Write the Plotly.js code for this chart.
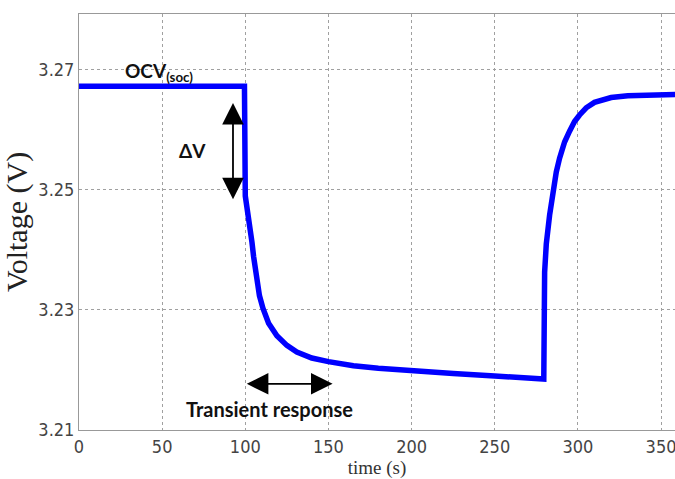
<!DOCTYPE html>
<html>
<head>
<meta charset="utf-8">
<script src="https://cdn.plot.ly/plotly-3.0.1.min.js"></script>
<style>html,body{margin:0;padding:0;background:#fff;}#chart{width:675px;height:479px;}</style>
</head>
<body>
<div id="chart"></div>
<script>
const timeS = [0, 99.5, 100, 101, 102, 103, 104, 105, 106.5, 108.5, 110.6, 114, 119, 125, 131, 140, 150, 165, 180, 200, 225, 250, 265, 279.5, 280, 281, 283, 285, 287, 289, 292, 295, 298, 301, 305, 310, 315, 320, 330, 340, 358.5];
const voltage = [3.2673, 3.2673, 3.2490, 3.2474, 3.2456, 3.2436, 3.2413, 3.2389, 3.2355, 3.2324, 3.2303, 3.2278, 3.2257, 3.2241, 3.2230, 3.2220, 3.2214, 3.2207, 3.2203, 3.2198, 3.2194, 3.2190, 3.2188, 3.2185, 3.2363, 3.2410, 3.2458, 3.2500, 3.2530, 3.2553, 3.2580, 3.2598, 3.2614, 3.2625, 3.2637, 3.2646, 3.2651, 3.2654, 3.2657, 3.2658, 3.2659];
const xTicks = [0, 50, 100, 150, 200, 250, 300, 350];
const yTicks = [3.21, 3.23, 3.25, 3.27];
const yTickText = ['3.21', '3.23', '3.25', '3.27'];

const trace = {
  x: timeS, y: voltage, type: 'scatter', mode: 'lines',
  line: {color: '#0000ff', width: 5.5}, hoverinfo: 'skip'
};

const annFont = {family: 'Lato, "Open Sans", sans-serif', size: 19, color: '#111'};
const tickFont = {family: '"Liberation Sans Narrow", "DejaVu Sans Condensed", sans-serif', size: 18, color: '#444'};
const layout = {
  width: 675, height: 479,
  margin: {l: 79, r: 0, t: 14, b: 49, pad: 0},
  paper_bgcolor: '#fff', plot_bgcolor: '#fff',
  showlegend: false,
  xaxis: {
    range: [0, 358.4], tickvals: xTicks, ticktext: xTicks.map(String),
    showgrid: true, gridcolor: '#a0a0a0', griddash: 'dot', gridwidth: 1,
    zeroline: false, showline: true, linecolor: '#999', linewidth: 1, mirror: true,
    ticks: '', tickfont: tickFont, ticklabeloverflow: 'allow',
    title: {text: 'time (s)', font: {family: '"Liberation Serif", "Times New Roman", serif', size: 19, color: '#333'}, standoff: 3}
  },
  yaxis: {
    range: [3.21, 3.27933], tickvals: yTicks, ticktext: yTickText,
    showgrid: true, gridcolor: '#a0a0a0', griddash: 'dot', gridwidth: 1,
    zeroline: false, showline: true, linecolor: '#999', linewidth: 1, mirror: true,
    ticks: '', tickfont: tickFont, ticklabeloverflow: 'allow',
    title: {text: 'Voltage (V)', font: {family: '"Liberation Serif", "Times New Roman", serif', size: 30, color: '#222'}, standoff: 5}
  },
  annotations: [
    {x: 48, y: 3.2697, xref: 'x', yref: 'y', text: '<b>OCV<sub>(soc)</sub></b>', showarrow: false, font: annFont, xanchor: 'center', yanchor: 'middle'},
    {x: 68.5, y: 3.2565, xref: 'x', yref: 'y', text: '<b>ΔV</b>', showarrow: false, font: annFont, xanchor: 'center', yanchor: 'middle'},
    {x: 114.5, y: 3.2135, xref: 'x', yref: 'y', text: '<b>Transient response</b>', showarrow: false, font: {family: annFont.family, size: 20, color: '#111'}, xanchor: 'center', yanchor: 'middle'},
    {x: 92.6, y: 3.2645, ax: 92.6, ay: 3.2482, xref: 'x', yref: 'y', axref: 'x', ayref: 'y', text: '', showarrow: true, arrowhead: 2, startarrowhead: 2, arrowside: 'end+start', arrowsize: 2.4, startarrowsize: 2.4, arrowwidth: 1.8, arrowcolor: '#000'},
    {x: 152.5, y: 3.2177, ax: 100, ay: 3.2177, xref: 'x', yref: 'y', axref: 'x', ayref: 'y', text: '', showarrow: true, arrowhead: 2, startarrowhead: 2, arrowside: 'end+start', arrowsize: 2.4, startarrowsize: 2.4, arrowwidth: 1.8, arrowcolor: '#000'}
  ]
};
Plotly.newPlot('chart', [trace], layout, {displayModeBar: false, staticPlot: true});
</script>
</body>
</html>
